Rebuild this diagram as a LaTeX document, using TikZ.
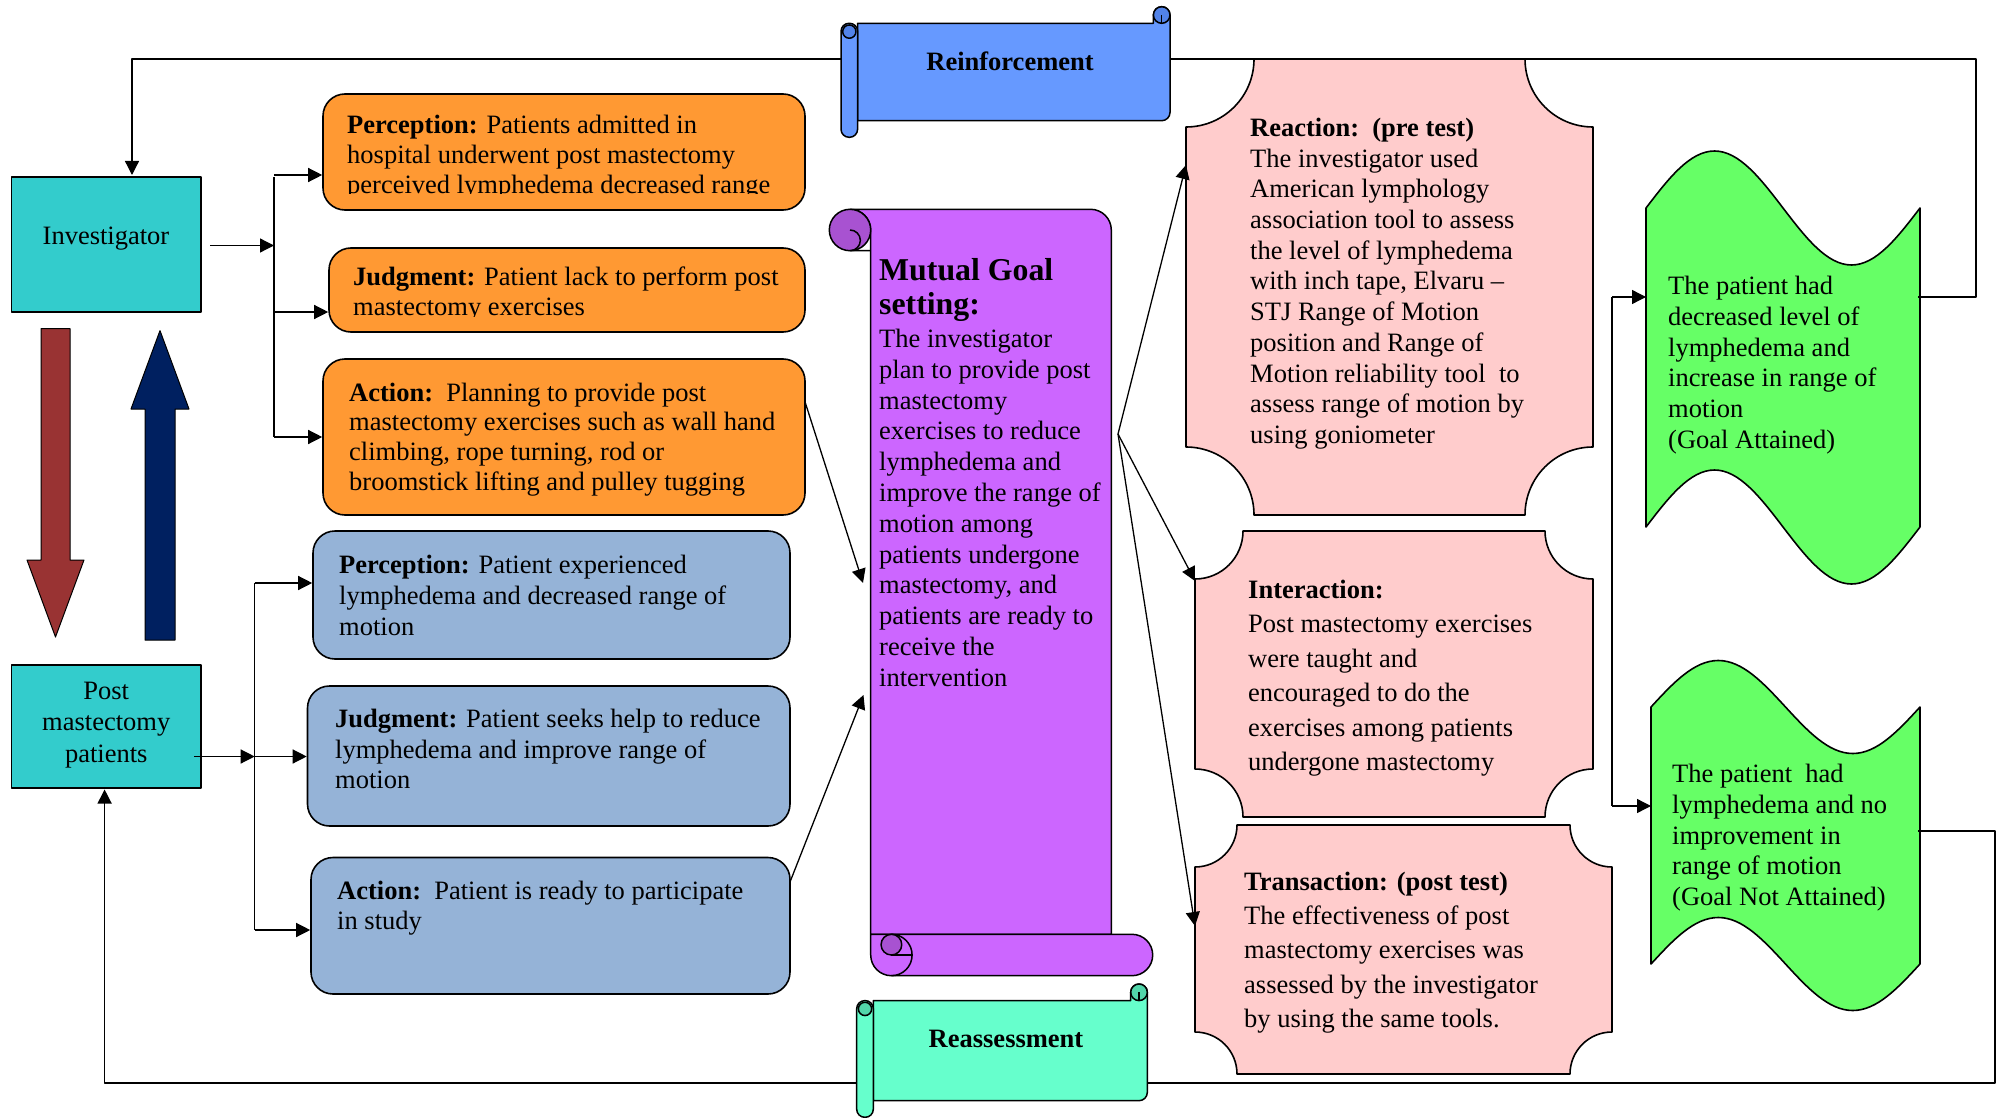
\documentclass[tikz,border=0pt]{standalone}
\usepackage{fontspec}
\setmainfont{Liberation Serif}
\usetikzlibrary{arrows.meta}
\definecolor{cteal}{HTML}{33CCCC}
\definecolor{corange}{HTML}{FF9933}
\definecolor{cbluebox}{HTML}{95B3D7}
\definecolor{cpurp}{HTML}{CC66FF}
\definecolor{cpurpdark}{HTML}{A852D1}
\definecolor{cpink}{HTML}{FFCCCC}
\definecolor{cgreen}{HTML}{66FF66}
\definecolor{creinf}{HTML}{6699FF}
\definecolor{creinfdark}{HTML}{5283E8}
\definecolor{creas}{HTML}{66FFCC}
\definecolor{creasdark}{HTML}{52D6AA}
\definecolor{credarr}{HTML}{993333}
\definecolor{cbluearr}{HTML}{002060}
\newcommand\fsz[1]{\fontsize{26.5}{#1}\selectfont}
\newcommand\nsp{\spaceskip=0pt\xspaceskip=0pt\relax}
% horizontal scroll: L T R B c main dark
\newcommand\hscroll[7]{%
 \pgfmathsetmacro\hsL{#1}\pgfmathsetmacro\hsT{#2}\pgfmathsetmacro\hsR{#3}\pgfmathsetmacro\hsB{#4}%
 \pgfmathsetmacro\hsC{#5}\pgfmathsetmacro\hsH{#5/2}\pgfmathsetmacro\hsK{0.5523*#5/2}%
 \filldraw[scr,fill=#6] (\hsL+\hsC,\hsT+\hsC) -- (\hsR-\hsC,\hsT+\hsC) -- (\hsR-\hsC,\hsT+\hsH)
   .. controls (\hsR-\hsC,\hsT+\hsH-\hsK) and (\hsR-\hsH-\hsK,\hsT) .. (\hsR-\hsH,\hsT)
   .. controls (\hsR-\hsH+\hsK,\hsT) and (\hsR,\hsT+\hsH-\hsK) .. (\hsR,\hsT+\hsH)
   -- (\hsR,\hsB-\hsC-\hsH)
   .. controls (\hsR,\hsB-\hsC-\hsH+\hsK) and (\hsR-\hsH+\hsK,\hsB-\hsC) .. (\hsR-\hsH,\hsB-\hsC)
   -- (\hsL+\hsC,\hsB-\hsC) -- cycle;
 \filldraw[scr,fill=#7] (\hsR-\hsH,\hsT+\hsH) circle[radius=\hsH pt];
 \draw[scr] (\hsR-\hsH,\hsT+\hsH) -- (\hsR-\hsH,\hsT+\hsC);
 \filldraw[scr,fill=#6,rounded corners=0.97*\hsH pt] (\hsL,\hsT+\hsC) rectangle (\hsL+\hsC,\hsB);
 \filldraw[scr,fill=#7] (\hsL+\hsH,\hsT+\hsC+\hsH) circle[radius=0.8*\hsH pt];
}
% plaque: style x1 y1 x2 y2 r
\newcommand\plaque[6]{%
 \pgfmathsetmacro\pqA{#2}\pgfmathsetmacro\pqB{#3}\pgfmathsetmacro\pqC{#4}\pgfmathsetmacro\pqD{#5}%
 \pgfmathsetmacro\pqR{#6}\pgfmathsetmacro\pqK{0.5523*#6}%
 \filldraw[#1] (\pqA+\pqR,\pqB) -- (\pqC-\pqR,\pqB)
   .. controls (\pqC-\pqR,\pqB+\pqK) and (\pqC-\pqK,\pqB+\pqR) .. (\pqC,\pqB+\pqR)
   -- (\pqC,\pqD-\pqR)
   .. controls (\pqC-\pqK,\pqD-\pqR) and (\pqC-\pqR,\pqD-\pqK) .. (\pqC-\pqR,\pqD)
   -- (\pqA+\pqR,\pqD)
   .. controls (\pqA+\pqR,\pqD-\pqK) and (\pqA+\pqK,\pqD-\pqR) .. (\pqA,\pqD-\pqR)
   -- (\pqA,\pqB+\pqR)
   .. controls (\pqA+\pqK,\pqB+\pqR) and (\pqA+\pqR,\pqB+\pqK) .. (\pqA+\pqR,\pqB)
   -- cycle;}
% wave box: style xL xR yT yB A
\newcommand\wavebox[6]{%
 \pgfmathsetmacro\wvW{(#3-#2)/4}%
 \filldraw[#1] (#2,#4) sin (#2+\wvW,#4-#6) cos (#2+2*\wvW,#4) sin (#2+3*\wvW,#4+#6) cos (#3,#4)
   -- (#3,#5) sin (#2+3*\wvW,#5+#6) cos (#2+2*\wvW,#5) sin (#2+\wvW,#5-#6) cos (#2,#5) -- cycle;}
\begin{document}
\begin{tikzpicture}[x=1pt,y=-1pt,line join=round,
  bx/.style={draw=black,line width=1.6pt,inner sep=0pt},
  ln/.style={line width=1.3pt},
  arr/.style={line width=1.3pt,-{Triangle[length=14pt,width=14pt]}},
  tx/.style={anchor=base west,inner sep=0pt,align=left,text width=560pt,execute at begin node=\nsp},
  scr/.style={draw=black,line width=1.5pt,line join=round},
  shp/.style={draw=black,line width=1.6pt,line join=round}]
\fill[white] (0,0) rectangle (1997,1118);
\useasboundingbox (0,0) rectangle (1997,1118);

% ---------- left boxes ----------
\node[bx,fill=cteal,minimum width=189.5pt,minimum height=135pt] (inv) at (106.25,244.5) {};
\node[anchor=base,inner sep=0pt,font=\fsz{31}] (invt) at (106,244.5) {Investigator};
\node[bx,fill=cteal,minimum width=189.5pt,minimum height=123pt] (post) at (106.25,726.5) {};
\node[anchor=base,inner sep=0pt,align=center,text width=185pt,font=\fsz{31.5}] (postt) at (106.25,699) {Post\\mastectomy\\patients};

% block arrows
\filldraw[fill=credarr,draw=black,line width=1pt] (41,328.5) -- (70,328.5) -- (70,560) -- (84,560) -- (55.5,637) -- (27,560) -- (41,560) -- cycle;
\filldraw[fill=cbluearr,draw=black,line width=1pt] (145,640) -- (175,640) -- (175,409) -- (189,409) -- (160,330.6) -- (131,409) -- (145,409) -- cycle;

% ---------- orange boxes ----------
\node[bx,fill=corange,rounded corners=22pt,minimum width=482pt,minimum height=116pt] (op) at (564,152) {};
\begin{scope}
\clip (300,90) rectangle (810,193.6);
\node[tx,font=\fsz{30}] (opt) at (347,133.3) {\textbf{Perception:} Patients admitted in\\hospital underwent post mastectomy\\perceived lymphedema decreased range};
\end{scope}
\node[bx,fill=corange,rounded corners=22pt,minimum width=476pt,minimum height=84pt] (oj) at (567,290) {};
\begin{scope}
\clip (300,240) rectangle (810,316);
\node[tx,font=\fsz{30}] (ojt) at (353,285.5) {\textbf{Judgment:} Patient lack to perform post\\mastectomy exercises};
\end{scope}
\node[bx,fill=corange,rounded corners=22pt,minimum width=482pt,minimum height=156pt] (oa) at (564,437) {};
\node[tx,font=\fsz{29.9}] (oat) at (349,401) {\textbf{Action:}\ \ Planning to provide post\\mastectomy exercises such as wall hand\\climbing, rope turning, rod or\\broomstick lifting and pulley tugging};

% ---------- blue boxes ----------
\node[bx,fill=cbluebox,rounded corners=22pt,minimum width=477pt,minimum height=128pt] (bp) at (551.5,595) {};
\node[tx,font=\fsz{31.4}] (bpt) at (339,573) {\textbf{Perception:} Patient experienced\\lymphedema and decreased range of\\motion};
\node[bx,fill=cbluebox,rounded corners=22pt,minimum width=482.5pt,minimum height=140pt] (bj) at (548.75,756) {};
\node[tx,font=\fsz{30.5}] (bjt) at (335,727.5) {\textbf{Judgment:} Patient seeks help to reduce\\lymphedema and improve range of\\motion};
\node[bx,fill=cbluebox,rounded corners=22pt,minimum width=479pt,minimum height=136.5pt] (ba) at (550.5,925.75) {};
\node[tx,font=\fsz{30.5}] (bat) at (337,899) {\textbf{Action:}\ \ Patient is ready to participate\\in study};

% ---------- right shapes ----------
\plaque{shp,fill=cpink}{1186}{59}{1593}{515}{68}
\node[tx,font=\fsz{30.7}] (reat) at (1250,136.5) {\textbf{Reaction:\ \ (pre test)}\\The investigator used\\American lymphology\\association tool to assess\\the level of lymphedema\\with inch tape, Elvaru –\\STJ Range of Motion\\position and Range of\\Motion reliability tool\ \ to\\assess range of motion by\\using goniometer};
\plaque{shp,fill=cpink}{1195}{531}{1593}{817}{48}
\node[tx,font=\fsz{34.4}] (intt) at (1248,598.5) {\textbf{Interaction:}\\Post mastectomy exercises\\were taught and\\encouraged to do the\\exercises among patients\\undergone mastectomy};
\plaque{shp,fill=cpink}{1195}{825}{1612}{1074}{42}
\node[tx,font=\fsz{34.2}] (trat) at (1244,890.5) {\textbf{Transaction: (post test)}\\The effectiveness of post\\mastectomy exercises was\\assessed by the investigator\\by using the same tools.};

\wavebox{shp,fill=cgreen}{1646}{1920}{208}{527}{57}
\node[tx,font=\fsz{30.8}] (g1t) at (1668,294.5) {The patient had\\decreased level of\\lymphedema and\\increase in range of\\motion\\(Goal Attained)};
\wavebox{shp,fill=cgreen}{1651}{1920}{707}{964}{46.5}
\node[tx,font=\fsz{30.8}] (g2t) at (1672,782.5) {The patient\ \ had\\lymphedema and no\\improvement in\\range of motion\\(Goal Not Attained)};

% ---------- mutual goal vertical scroll ----------
\pgfmathsetmacro\vL{829.3}\pgfmathsetmacro\vT{209.3}\pgfmathsetmacro\vR{1152.7}\pgfmathsetmacro\vB{975.7}
\pgfmathsetmacro\vC{41.4}\pgfmathsetmacro\vH{20.7}\pgfmathsetmacro\vK{11.43}
\filldraw[scr,fill=cpurp] (\vL+\vH,\vT) -- (\vR-\vC-\vH,\vT)
  .. controls (\vR-\vC-\vH+\vK,\vT) and (\vR-\vC,\vT+\vH-\vK) .. (\vR-\vC,\vT+\vH)
  -- (\vR-\vC,\vB-\vC) -- (\vL+\vC,\vB-\vC) -- (\vL+\vC,\vT+\vH)
  .. controls (\vL+\vC,\vT+\vH-\vK) and (\vL+\vH+\vK,\vT) .. (\vL+\vH,\vT) -- cycle;
\filldraw[scr,fill=cpurpdark] (\vL+\vH,\vT+\vH) circle[radius=\vH pt];
\draw[scr] (\vL+\vH,\vT+\vH) .. controls (\vL+\vH+\vK/2,\vT+\vH) and (\vL+1.5*\vH,\vT+1.5*\vH-\vK/2) .. (\vL+1.5*\vH,\vT+1.5*\vH)
  .. controls (\vL+1.5*\vH,\vT+1.5*\vH+\vK/2) and (\vL+\vH+\vK/2,\vT+\vC) .. (\vL+\vH,\vT+\vC) -- (\vL+\vC,\vT+\vC);
\filldraw[scr,fill=cpurp] (\vL+\vC,\vB-\vC) -- (\vR-\vH,\vB-\vC)
  .. controls (\vR-\vH+\vK,\vB-\vC) and (\vR,\vB-\vH-\vK) .. (\vR,\vB-\vH)
  .. controls (\vR,\vB-\vH+\vK) and (\vR-\vH+\vK,\vB) .. (\vR-\vH,\vB)
  -- (\vL+\vC+\vH,\vB)
  .. controls (\vL+\vC+\vH-\vK,\vB) and (\vL+\vC,\vB-\vH+\vK) .. (\vL+\vC,\vB-\vH) -- cycle;
\draw[scr] (\vL+\vC+\vH,\vB-\vC) .. controls (\vL+\vC+\vH+\vK,\vB-\vC) and (\vL+2*\vC,\vB-\vH-\vK) .. (\vL+2*\vC,\vB-\vH)
  .. controls (\vL+2*\vC,\vB-\vH+\vK) and (\vL+\vC+\vH+\vK,\vB) .. (\vL+\vC+\vH,\vB);
\filldraw[scr,fill=cpurpdark] (\vL+\vC+\vH,\vB-\vC+\vH/2) circle[radius=\vH/2 pt];
\draw[scr] (\vL+\vC+\vH,\vB-\vH) -- (\vL+2*\vC,\vB-\vH);
\node[tx,font=\fontsize{31.8}{34}\selectfont\bfseries] (mgt) at (879,280) {Mutual Goal\\setting:};
\node[tx,font=\fsz{30.8}] (mgb) at (879,347.5) {The investigator\\plan to provide post\\mastectomy\\exercises to reduce\\lymphedema and\\improve the range of\\motion among\\patients undergone\\mastectomy, and\\patients are ready to\\receive the\\intervention};

% ---------- connectors ----------
\coordinate (invo) at (210,245.5);
\coordinate (brI) at (274,245.5);
\coordinate (brIt) at (274,175);
\coordinate (brIm) at (274,312);
\coordinate (brIb) at (274,437);
\draw[arr] (invo) -- (brI);
\draw[ln] (274,177) -- (brIb);
\draw[arr] (brIt) -- (brIt -| op.west);
\draw[arr] (brIm) -- (brIm -| oj.west);
\draw[arr] (brIb) -- (brIb -| oa.west);

\coordinate (posto) at (194,756.5);
\coordinate (brP) at (254.7,756.5);
\coordinate (brPt) at (254.7,583);
\coordinate (brPb) at (254.7,930);
\draw[arr] (posto) -- (brP);
\draw[ln] (brPt) -- (brPb);
\draw[arr] (brPt) -- (brPt -| bp.west);
\draw[arr] (brP) -- (brP -| bj.west);
\draw[arr] (brPb) -- (brPb -| ba.west);

\coordinate (oaR) at (805.4,403);
\coordinate (mgL1) at (863,583);
\coordinate (baR) at (790,882);
\coordinate (mgL2) at (863.5,695);
\draw[arr] (oaR) -- (mgL1);
\draw[arr] (baR) -- (mgL2);

\coordinate (mgR) at (1118,434);
\coordinate (reL) at (1186,165);
\coordinate (inL) at (1195,581);
\coordinate (trL) at (1195,926);
\draw[arr] (mgR) -- (reL);
\draw[arr] (mgR) -- (inL);
\draw[arr] (mgR) -- (trL);

\coordinate (rb1) at (1612,297);
\coordinate (rb2) at (1612,806);
\coordinate (g1l) at (1646,297);
\coordinate (g2l) at (1651,806);
\draw[ln] (rb1) -- (rb2);
\draw[arr] (rb1) -- (g1l);
\draw[arr] (rb2) -- (g2l);

\coordinate (g1r) at (1918,297);
\coordinate (invtop) at (132,175);
\draw[arr] (g1r) -- (1976,297) -- (1976,59) -- (132,59) -- (invtop);
\coordinate (g2r) at (1918,831);
\coordinate (postbot) at (104.6,789.5);
\draw[arr] (g2r) -- (1995,831) -- (1995,1083) -- (104.6,1083) -- (postbot);

% ---------- horizontal scrolls ----------
\hscroll{841}{6.7}{1170}{137.3}{16.6}{creinf}{creinfdark}
\node[anchor=base,inner sep=0pt,font=\fsz{31}\bfseries] (reinf) at (1010,70.5) {Reinforcement};
\hscroll{856.7}{984}{1147.3}{1117.3}{16.6}{creas}{creasdark}
\node[anchor=base,inner sep=0pt,font=\fsz{31}\bfseries] (reas) at (1006,1047) {Reassessment};
\end{tikzpicture}
\end{document}
